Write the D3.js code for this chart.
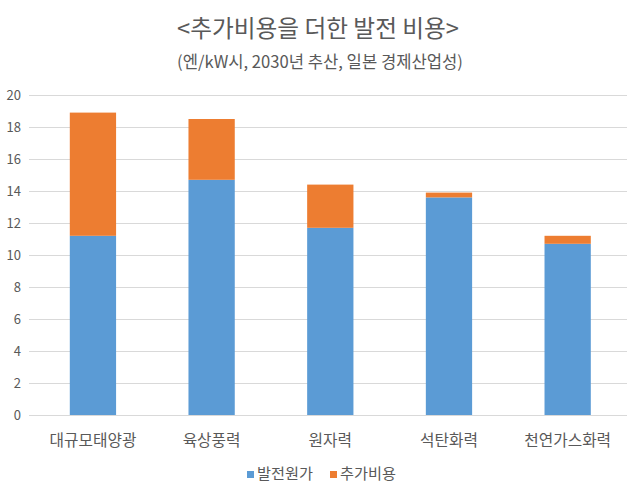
<!DOCTYPE html>
<html><head><meta charset="utf-8">
<script src="https://cdn.jsdelivr.net/npm/d3@7"></script>
<style>
body{margin:0;background:#fff;}
text{font-family:"Noto Sans CJK KR","Noto Sans",sans-serif;fill:#595959;}
</style></head>
<body><svg id="c" width="640" height="490"></svg>
<script>
const categories = ["대규모태양광","육상풍력","원자력","석탄화력","천연가스화력"];
const baseCost = [11.2, 14.7, 11.7, 13.6, 10.7];
const extraCost = [7.7, 3.8, 2.7, 0.3, 0.5];
const seriesNames = ["발전원가","추가비용"];
const yTicks = [0,2,4,6,8,10,12,14,16,18,20];
const colors = ["#5B9BD5","#ED7D31"];

(function(){
const svg = d3.select("#c");
const mLeft = 33.6, mRight = 627, mTop = 95, mBottom = 415;
const x = d3.scaleBand().domain(categories).range([mLeft,mRight]).paddingInner(0.61).paddingOuter(0.305);
const y = d3.scaleLinear().domain([0,20]).range([mBottom,mTop]);

function fitSize(node, fs, target){
  const w = node.getComputedTextLength();
  return w>0 ? fs*target/w : fs;
}

svg.append("g").selectAll("line").data(yTicks).join("line")
  .attr("x1",29).attr("x2",mRight).attr("y1",d=>y(d)).attr("y2",d=>y(d))
  .attr("stroke","#D9D9D9").attr("stroke-width",1).attr("shape-rendering","crispEdges");

svg.append("g").selectAll("text").data(yTicks).join("text")
  .attr("x",21).attr("y",d=>y(d)).attr("dy","0.35em").attr("text-anchor","end")
  .attr("font-size",13).text(d=>d);

const rows = categories.map((c,i)=>({cat:c, "발전원가":baseCost[i], "추가비용":extraCost[i]}));
const stacked = d3.stack().keys(seriesNames)(rows);
svg.append("g").selectAll("g").data(stacked).join("g").attr("fill",(d,i)=>colors[i])
  .selectAll("rect").data(d=>d).join("rect")
  .attr("x",d=>x(d.data.cat)).attr("width",x.bandwidth())
  .attr("y",d=>y(d[1])).attr("height",d=>y(d[0])-y(d[1]));

const cl = svg.append("g").selectAll("text").data(categories).join("text")
  .attr("x",d=>x(d)+x.bandwidth()/2).attr("y",440).attr("dy","0.35em")
  .attr("text-anchor","middle").attr("font-size",14.5).text(d=>d);
const cfs = Math.min(16, fitSize(cl.node(), 14.5, 87));
cl.attr("font-size", cfs);

const t = svg.append("text").attr("x",318).attr("y",29).attr("dy","0.35em").attr("text-anchor","middle")
  .attr("font-size",22).text("<추가비용을 더한 발전 비용>");
t.attr("font-size", fitSize(t.node(), 22, 282));
const s = svg.append("text").attr("x",320).attr("y",62).attr("dy","0.35em").attr("text-anchor","middle")
  .attr("font-size",15).text("(엔/kW시, 2030년 추산, 일본 경제산업성)");
s.attr("font-size", fitSize(s.node(), 15, 286));

const leg = svg.append("g");
const legX = [247, 330];
const lt = [];
seriesNames.forEach((n,i)=>{
  leg.append("rect").attr("x",legX[i]).attr("y",471).attr("width",7).attr("height",7).attr("fill",colors[i]);
  lt.push(leg.append("text").attr("x",legX[i]+10).attr("y",474).attr("dy","0.35em").attr("font-size",14).text(n));
});
const lfs = Math.min(15.5, fitSize(lt[0].node(), 14, 56));
lt.forEach(e=>e.attr("font-size", lfs));
})();
</script></body></html>
